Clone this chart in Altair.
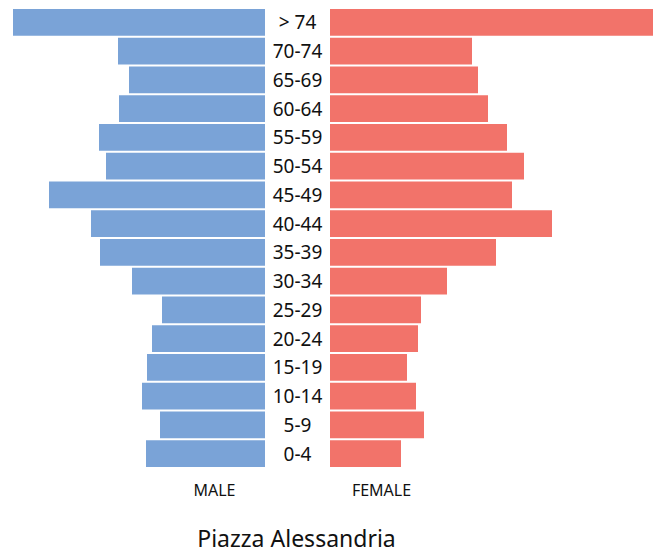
import altair as alt
import pandas as pd

ages = ["> 74", "70-74", "65-69", "60-64", "55-59", "50-54", "45-49", "40-44",
        "35-39", "30-34", "25-29", "20-24", "15-19", "10-14", "5-9", "0-4"]
male = [252, 147, 136, 146, 166, 159, 216, 174, 165, 133, 103, 113, 118, 123, 105, 119]
female = [331, 142, 148, 158, 177, 194, 182, 222, 166, 117, 91, 88, 77, 86, 94, 71]

df = pd.DataFrame({"age": ages, "male": male, "female": female})

FONT = "Noto Sans"
H = 460
yscale = alt.Scale(domain=ages, paddingInner=0.07, paddingOuter=0.035)
ysort = ages

left = alt.Chart(df).mark_bar(color="#7aa3d7").encode(
    x=alt.X("male:Q", scale=alt.Scale(domain=[0, 257], reverse=True, nice=False),
            axis=alt.Axis(title="MALE", labels=False, ticks=False, domain=False, grid=False,
                          titleX=206, titleY=27, titleBaseline="alphabetic",
                          titleFont=FONT, titleFontSize=16, titleFontWeight="normal",
                          titleColor="#111111")),
    y=alt.Y("age:N", scale=yscale, sort=ysort, axis=None),
).properties(width=257, height=H)

mid = alt.Chart(df).mark_text(font=FONT, fontSize=19, color="#111111", baseline="middle",
                              align="center", dy=1).encode(
    x=alt.value(32.5),
    y=alt.Y("age:N", scale=yscale, sort=ysort, axis=None),
    text="age:N",
).properties(width=65, height=H)

right = alt.Chart(df).mark_bar(color="#f2736a", clip=True).encode(
    x=alt.X("female:Q", scale=alt.Scale(domain=[0, 323], nice=False),
            axis=alt.Axis(title="FEMALE", labels=False, ticks=False, domain=False, grid=False,
                          titleX=51, titleY=27, titleBaseline="alphabetic",
                          titleFont=FONT, titleFontSize=16, titleFontWeight="normal",
                          titleColor="#111111")),
    y=alt.Y("age:N", scale=yscale, sort=ysort, axis=None),
).properties(width=323, height=H)

chart = alt.hconcat(left, mid, right, spacing=0).properties(
    title=alt.TitleParams("Piazza Alessandria", orient="bottom", anchor="middle", dx=-34,
                          offset=31, font=FONT, fontSize=23, fontWeight="normal",
                          color="#111111"),
    padding=0,
    background="white",
).configure_view(stroke=None)

chart.save("out.html", embed_options={"renderer": "svg", "actions": False})
